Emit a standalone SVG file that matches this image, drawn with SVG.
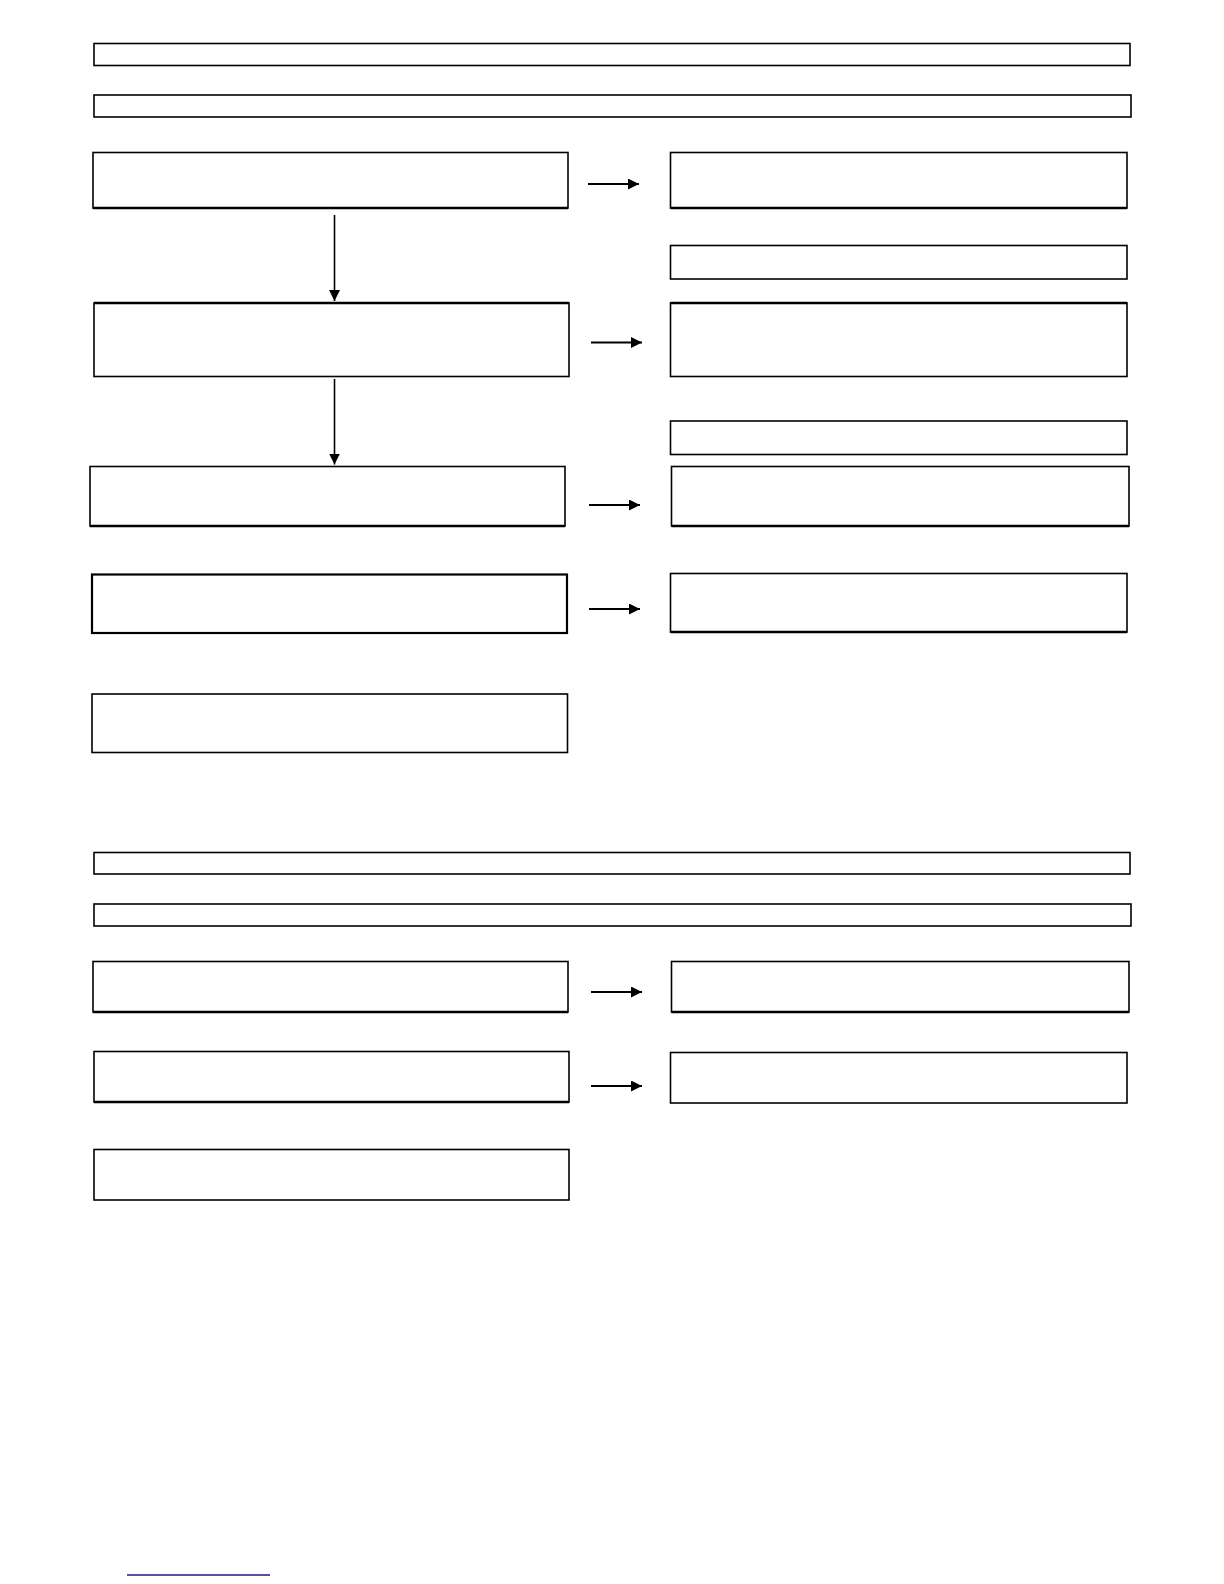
<svg xmlns="http://www.w3.org/2000/svg" width="1224" height="1584" viewBox="0 0 1224 1584">
<style>
.box{fill:#fff;stroke:#000;stroke-width:1.6}
.thick{fill:#fff;stroke:#000;stroke-width:2.2}
.edge{stroke:#000;stroke-width:2.6}
.conn{stroke:#000;stroke-width:2.2;fill:none}
.vconn{stroke:#000;stroke-width:1.6;fill:none}
</style>
<defs>
<marker id="ah" viewBox="0 0 10 10" refX="10" refY="5" markerWidth="11" markerHeight="11" markerUnits="userSpaceOnUse" orient="auto">
<path d="M0,0 L10,5 L0,10 Z" fill="#000"/>
</marker>
</defs>
<rect width="1224" height="1584" fill="#fff"/>
<g id="h1"><rect class="box" x="94" y="43.5" width="1036" height="22"/></g>
<g id="h2"><rect class="box" x="94" y="95" width="1037" height="22"/></g>
<g id="a"><rect class="box" x="93" y="152.5" width="475" height="55.5"/><line class="edge" x1="93" y1="208" x2="568" y2="208"/></g>
<g id="a2"><rect class="box" x="670.5" y="152.5" width="456.5" height="55.5"/><line class="edge" x1="670.5" y1="208" x2="1127" y2="208"/></g>
<g id="a3"><rect class="box" x="670.5" y="245.5" width="456.5" height="33.5"/></g>
<g id="b"><rect class="box" x="94" y="303" width="475" height="73.5"/><line class="edge" x1="94" y1="303" x2="569" y2="303"/></g>
<g id="b2"><rect class="box" x="670.5" y="303" width="456.5" height="73.5"/><line class="edge" x1="670.5" y1="303" x2="1127" y2="303"/></g>
<g id="b3"><rect class="box" x="670.5" y="421" width="456.5" height="33.5"/></g>
<g id="c"><rect class="box" x="90" y="466.5" width="475" height="59.5"/><line class="edge" x1="90" y1="526" x2="565" y2="526"/></g>
<g id="c2"><rect class="box" x="671.5" y="466.5" width="457.5" height="59.5"/><line class="edge" x1="671.5" y1="526" x2="1129" y2="526"/></g>
<g id="d"><rect class="thick" x="92" y="574.5" width="475" height="58.5"/></g>
<g id="d2"><rect class="box" x="670.5" y="573.5" width="456.5" height="58.5"/><line class="edge" x1="670.5" y1="632" x2="1127" y2="632"/></g>
<g id="e"><rect class="box" x="92" y="694" width="475.5" height="58.5"/></g>
<g id="h3"><rect class="box" x="94" y="852.5" width="1036" height="21.5"/></g>
<g id="h4"><rect class="box" x="94" y="904" width="1037" height="22"/></g>
<g id="f"><rect class="box" x="93" y="961.5" width="475" height="50.5"/><line class="edge" x1="93" y1="1012" x2="568" y2="1012"/></g>
<g id="f2"><rect class="box" x="671.5" y="961.5" width="457.5" height="50.5"/><line class="edge" x1="671.5" y1="1012" x2="1129" y2="1012"/></g>
<g id="g"><rect class="box" x="94" y="1051.5" width="475" height="50.5"/><line class="edge" x1="94" y1="1102" x2="569" y2="1102"/></g>
<g id="g2"><rect class="box" x="670.5" y="1052.5" width="456.5" height="50.5"/></g>
<g id="h"><rect class="box" x="94" y="1149.5" width="475" height="50.5"/></g>
<g id="connectors">
<line class="conn" x1="588" y1="184" x2="639" y2="184" marker-end="url(#ah)"/>
<line class="vconn" x1="334.5" y1="215" x2="334.5" y2="301" marker-end="url(#ah)"/>
<line class="conn" x1="591" y1="342.5" x2="642" y2="342.5" marker-end="url(#ah)"/>
<line class="vconn" x1="334.5" y1="379" x2="334.5" y2="464.5" marker-end="url(#ah)"/>
<line class="conn" x1="589" y1="505" x2="640" y2="505" marker-end="url(#ah)"/>
<line class="conn" x1="589" y1="609" x2="640" y2="609" marker-end="url(#ah)"/>
<line class="conn" x1="591" y1="992" x2="642" y2="992" marker-end="url(#ah)"/>
<line class="conn" x1="591" y1="1086" x2="642" y2="1086" marker-end="url(#ah)"/>
</g>
<line x1="127" y1="1575" x2="270" y2="1575" stroke="#1a1a80" stroke-width="1.6"/>
</svg>
